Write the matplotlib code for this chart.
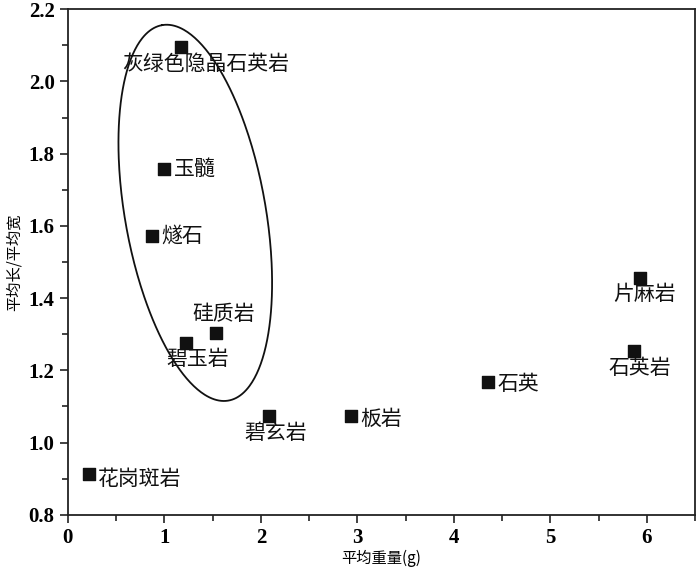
import numpy as np
import matplotlib
matplotlib.use("Agg")
import matplotlib.pyplot as plt
from matplotlib.ticker import MultipleLocator

plt.rcParams['font.family'] = ['Noto Sans CJK SC', 'DejaVu Sans']

rocks = ["灰绿色隐晶石英岩", "玉髓", "燧石", "硅质岩", "碧玉岩", "碧玄岩",
         "板岩", "花岗斑岩", "石英", "石英岩", "片麻岩"]
weight = [1.17, 1.00, 0.87, 1.53, 1.22, 2.08, 2.93, 0.22, 4.35, 5.87, 5.93]
ratio = [2.095, 1.758, 1.573, 1.303, 1.276, 1.073, 1.073, 0.914, 1.167, 1.253, 1.456]

# label placement (offset in points, ha, va)
label_style = {
    "灰绿色隐晶石英岩": ((18, -4), "center", "top"),
    "玉髓": ((7, 0), "left", "center"),
    "燧石": ((7, 0), "left", "center"),
    "硅质岩": ((6, 6), "center", "bottom"),
    "碧玉岩": ((9, -4), "center", "top"),
    "碧玄岩": ((5, -4), "center", "top"),
    "板岩": ((7, -2), "left", "center"),
    "花岗斑岩": ((6, -4), "left", "center"),
    "石英": ((7, -1), "left", "center"),
    "石英岩": ((4, -4), "center", "top"),
    "片麻岩": ((3, -4), "center", "top"),
}

fig = plt.figure(figsize=(7, 5.72), dpi=100)
ax = fig.add_axes([0.097, 0.100, 0.896, 0.884])

ax.scatter(weight, ratio, marker='s', s=80, color='#111111', zorder=3)
for name, x, y in zip(rocks, weight, ratio):
    off, ha, va = label_style[name]
    ax.annotate(name, (x, y), xytext=off, textcoords='offset points',
                ha=ha, va=va, fontsize=15, color='#111111')

# enclosing ellipse (drawn in screen-proportional units)
t = np.linspace(0, 2 * np.pi, 400)
a_px, b_px, theta = 190, 70, np.deg2rad(100)
px = a_px * np.cos(t) * np.cos(theta) - b_px * np.sin(t) * np.sin(theta)
py = a_px * np.cos(t) * np.sin(theta) + b_px * np.sin(t) * np.cos(theta)
ax.plot(1.32 + px / 96.0, 1.636 + py / 360.0, color='#111111', lw=1.3)

ax.set_xlim(0, 6.5)
ax.set_ylim(0.8, 2.2)
ax.xaxis.set_minor_locator(MultipleLocator(0.5))
ax.yaxis.set_minor_locator(MultipleLocator(0.1))
ax.set_yticks([0.8, 1.0, 1.2, 1.4, 1.6, 1.8, 2.0, 2.2])
ax.set_yticklabels(["0.8", "1.0", "1.2", "1.4", "1.6", "1.8", "2.0", "2.2"])
ax.set_xticks(range(7))
ax.set_xticklabels([str(i) for i in range(7)])
ax.tick_params(which='both', direction='out', top=False, right=False, width=1.2, color='#222222')
ax.tick_params(which='major', length=6)
ax.tick_params(which='minor', length=4)
for lab in ax.get_xticklabels() + ax.get_yticklabels():
    lab.set_fontfamily('Liberation Serif')
    lab.set_fontsize(15)
    lab.set_fontweight('bold')
for sp in ax.spines.values():
    sp.set_linewidth(1.3)
    sp.set_color('#222222')

ax.set_xlabel("平均重量(g)", fontsize=11, labelpad=1)
ax.set_ylabel("平均长/平均宽", fontsize=11, labelpad=4)

fig.savefig("out.png", dpi=100)
